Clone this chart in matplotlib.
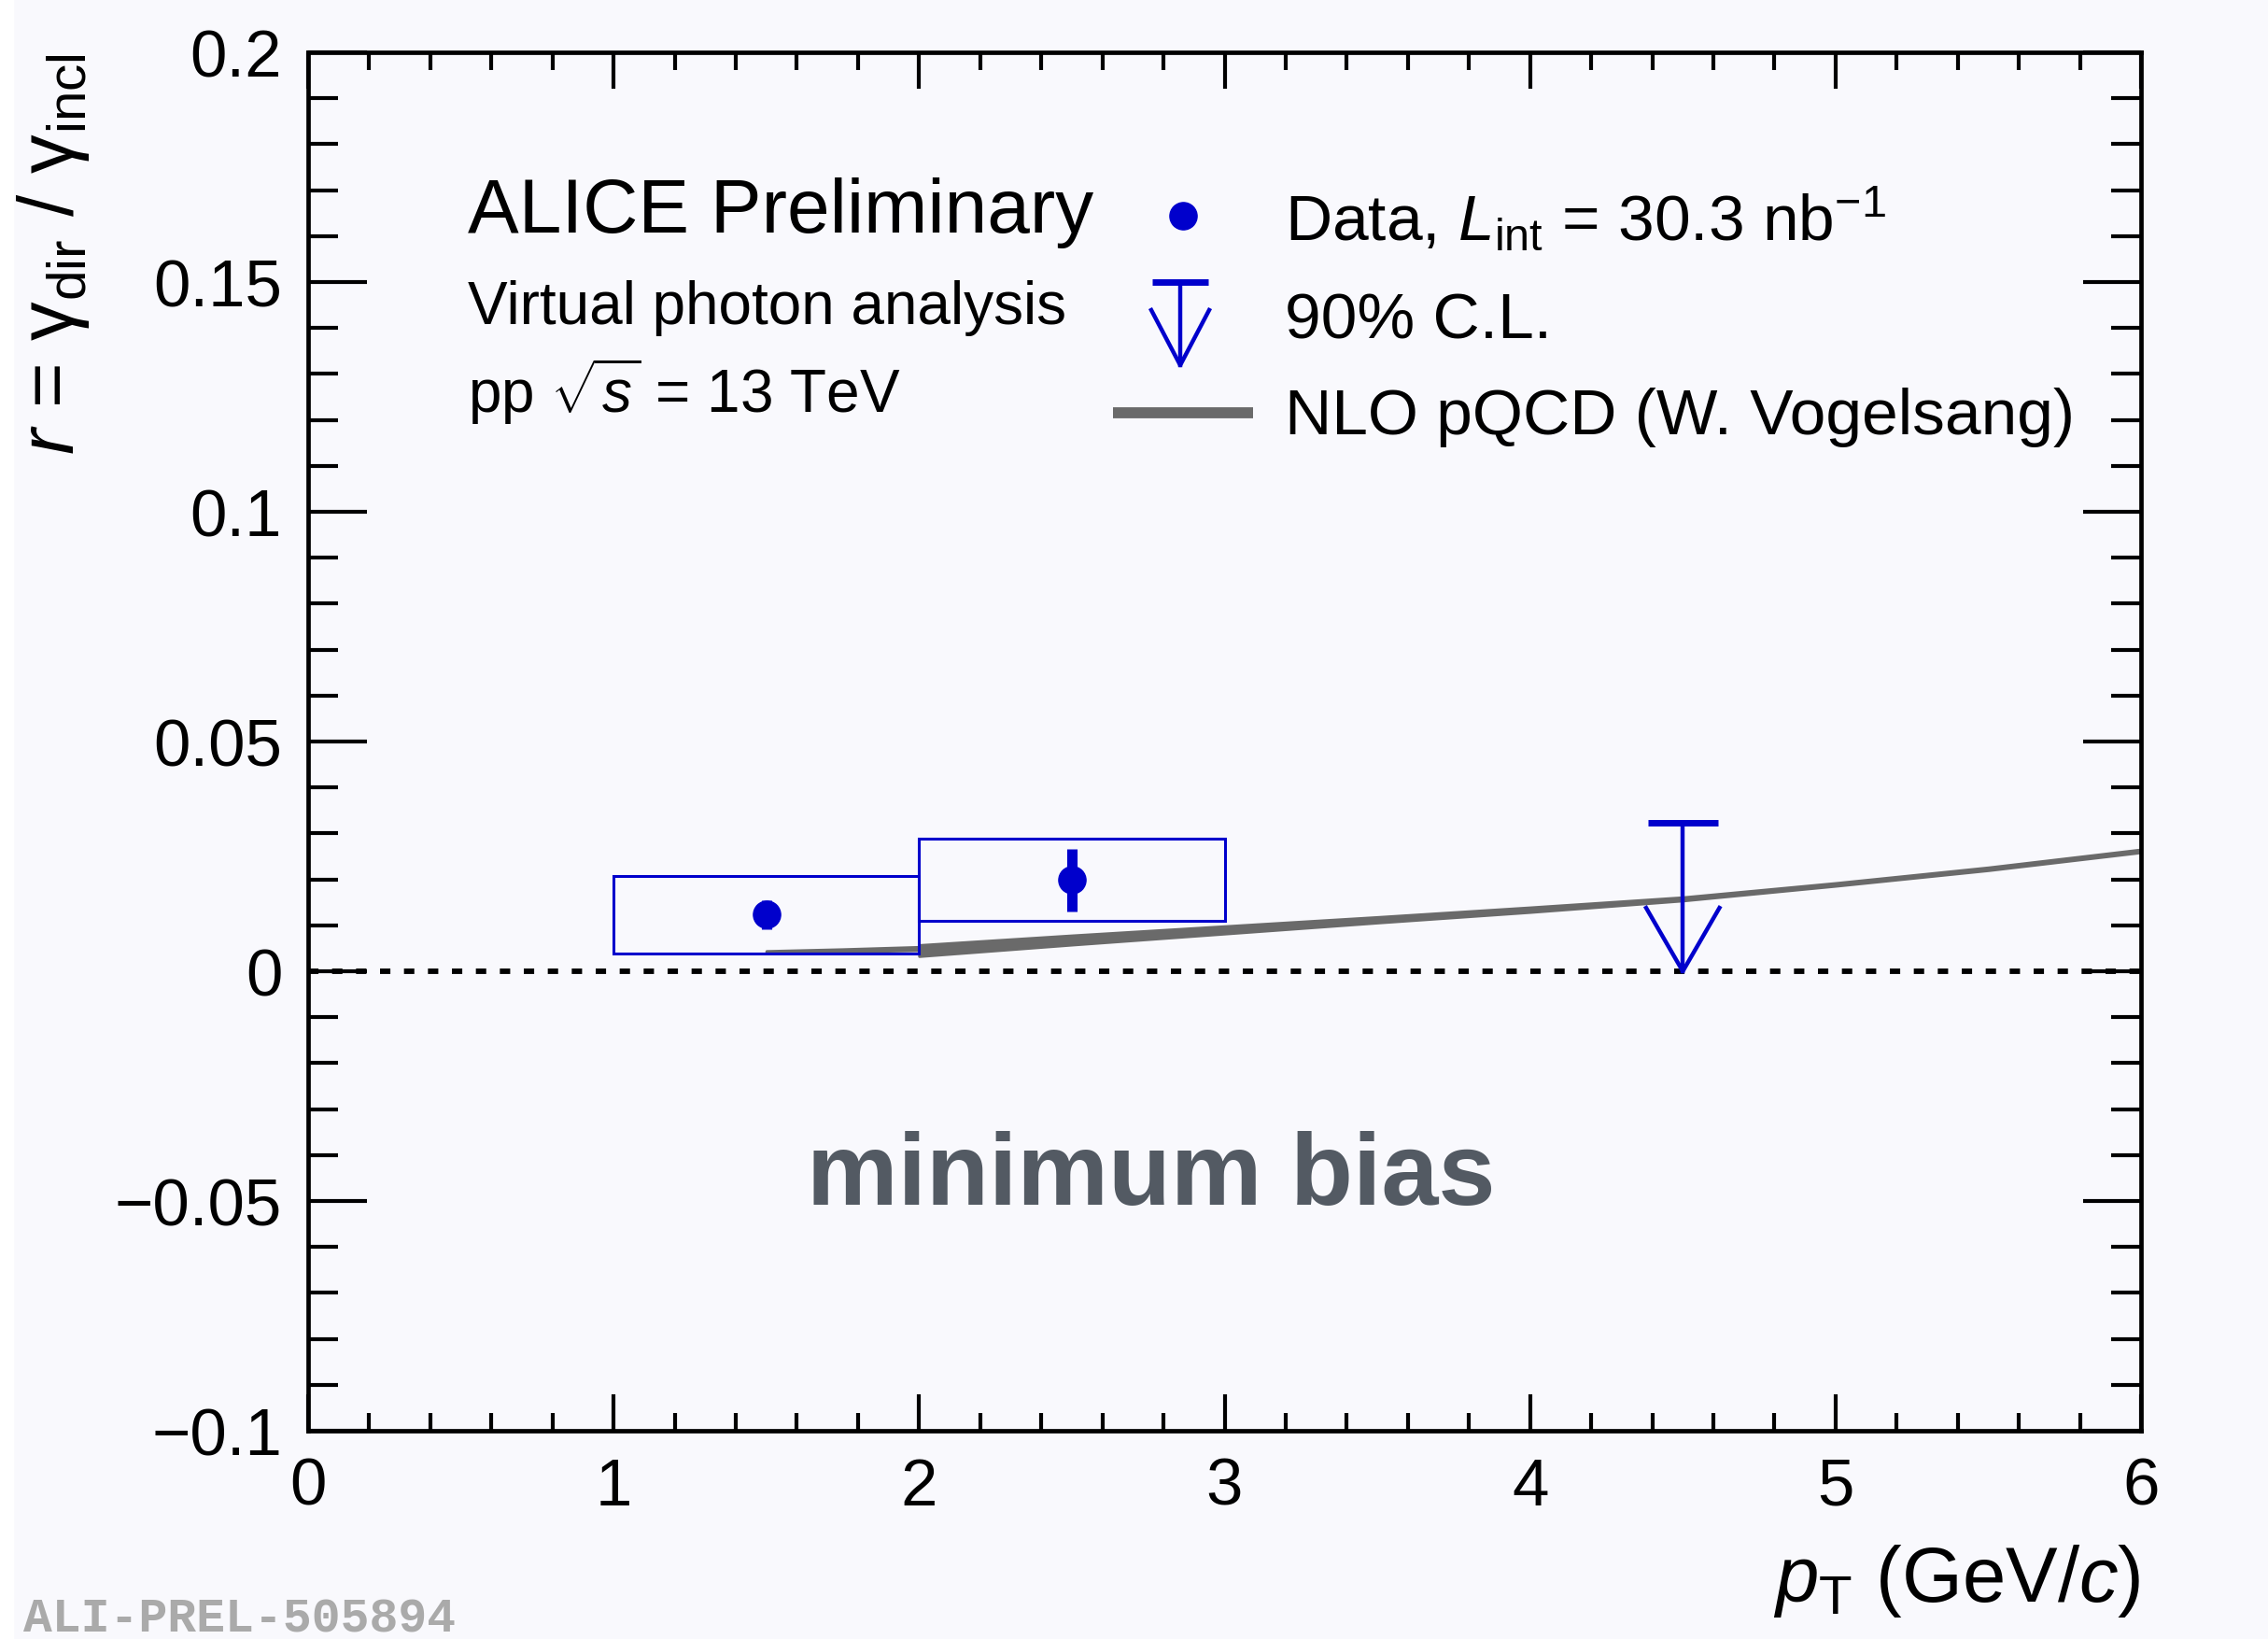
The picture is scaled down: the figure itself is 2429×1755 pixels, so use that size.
import matplotlib
matplotlib.use("Agg")
import matplotlib.pyplot as plt
from matplotlib.patches import Rectangle
from matplotlib.lines import Line2D
from matplotlib.ticker import MultipleLocator, FixedLocator, FixedFormatter

# ---------------- data ----------------
pt_points = [1.5, 2.5]
r_values = [0.0123, 0.0199]
stat_err = [0.0031, 0.0068]
bin_low = [1.0, 2.0]
bin_high = [2.0, 3.0]
sys_low = [0.0038, 0.0110]
sys_high = [0.0207, 0.0288]

ul_pt = 4.5
ul_value = 0.0324
ul_head = 0.0138

nlo1_pt = [1.5, 1.75, 2.0]
nlo1_lo = [0.0040, 0.0043, 0.0046]
nlo1_hi = [0.0044, 0.0048, 0.0053]
nlo2_pt = [2.0, 2.5, 3.0, 3.5, 4.0, 4.5, 5.0, 5.5, 6.0]
nlo2_lo = [0.0033, 0.0058, 0.0082, 0.0106, 0.0129, 0.0154, 0.0186, 0.0220, 0.0259]
nlo2_hi = [0.0057, 0.0078, 0.0098, 0.0118, 0.0139, 0.0161, 0.0192, 0.0226, 0.0265]

y_ticks = [-0.1, -0.05, 0, 0.05, 0.1, 0.15, 0.2]
y_ticklabels = ["\u22120.1", "\u22120.05", "0", "0.05", "0.1", "0.15", "0.2"]
x_ticks = [0, 1, 2, 3, 4, 5, 6]
x_ticklabels = ["0", "1", "2", "3", "4", "5", "6"]

# ---------------- style ----------------
W, H = 2429, 1756
BG = "#f9f9fd"
BLUE = "#0000cc"
GRAY = "#6a6a6a"
plt.rcParams["font.family"] = ["Liberation Sans", "DejaVu Sans"]
plt.rcParams["mathtext.fontset"] = "custom"
plt.rcParams["mathtext.rm"] = "Liberation Sans"
plt.rcParams["mathtext.it"] = "Liberation Sans:italic"
plt.rcParams["mathtext.bf"] = "Liberation Sans:bold"

fig = plt.figure(figsize=(W / 100, H / 100), dpi=100, facecolor=BG)
fig.add_artist(Rectangle((0, 0), 14 / W, 1, transform=fig.transFigure,
                         color="white", zorder=-10))

L, R, T, B = 330, 2293, 57, 1533
ax = fig.add_axes([L / W, 1 - B / H, (R - L) / W, (B - T) / H])
ax.set_facecolor(BG)
ax.set_xlim(0, 6)
ax.set_ylim(-0.1, 0.2)

for s in ax.spines.values():
    s.set_linewidth(3.4)

ax.xaxis.set_major_locator(FixedLocator(x_ticks))
ax.xaxis.set_major_formatter(FixedFormatter(x_ticklabels))
ax.xaxis.set_minor_locator(MultipleLocator(0.2))
ax.yaxis.set_major_locator(FixedLocator(y_ticks))
ax.yaxis.set_major_formatter(FixedFormatter(y_ticklabels))
ax.yaxis.set_minor_locator(MultipleLocator(0.01))

ax.tick_params(axis="x", which="major", direction="in", length=28, width=3,
               top=True, bottom=True, labelsize=51, pad=20)
ax.tick_params(axis="x", which="minor", direction="in", length=14, width=3,
               top=True, bottom=True)
ax.tick_params(axis="y", which="major", direction="in", length=45, width=3,
               left=True, right=True, labelsize=51, pad=20)
ax.tick_params(axis="y", which="minor", direction="in", length=23, width=3,
               left=True, right=True)

# zero line
ax.axhline(0, color="black", lw=4.2, dashes=(1.9, 2.5), zorder=1)

# NLO band
ax.fill_between(nlo1_pt, nlo1_lo, nlo1_hi, color=GRAY, lw=2.2, edgecolor=GRAY, zorder=2)
ax.fill_between(nlo2_pt, nlo2_lo, nlo2_hi, color=GRAY, lw=2.2, edgecolor=GRAY, zorder=2)

# systematic boxes
for x0, x1, y0, y1 in zip(bin_low, bin_high, sys_low, sys_high):
    ax.add_patch(Rectangle((x0, y0), x1 - x0, y1 - y0, fill=False,
                           edgecolor=BLUE, lw=2.2, zorder=3))

# data points
ax.errorbar(pt_points, r_values, yerr=stat_err, fmt="o", color=BLUE,
            markersize=21, elinewidth=8, capsize=0, zorder=4)

# upper limit
ax.plot([ul_pt, ul_pt], [ul_value, 0], color=BLUE, lw=3.2, zorder=4)
ax.plot([ul_pt - 0.115, ul_pt + 0.115], [ul_value, ul_value], color=BLUE,
        lw=5, solid_capstyle="butt", zorder=4)
ax.plot([ul_pt - 0.12, ul_pt, ul_pt + 0.12], [ul_head, 0, ul_head], color=BLUE,
        lw=3.2, zorder=4)

# axis labels
ax.set_xlabel(r"$p_{\mathrm{T}}$ (GeV/$c$)", fontsize=60, loc="right", labelpad=18)
ax.set_ylabel(r"$r$ = $\mathrm{\gamma}_{\mathrm{dir}}$ / $\mathrm{\gamma}_{\mathrm{incl}}$",
              fontsize=60, loc="top", labelpad=18)


def ftext(x, y, s, **kw):
    fig.text(x / W, 1 - y / H, s, va="baseline", **kw)


# header texts
ftext(501, 249, "ALICE Preliminary", fontsize=59)
ftext(501, 347, "Virtual photon analysis", fontsize=46)
ftext(501, 442, r"pp $\sqrt{s}$ = 13 TeV", fontsize=46)

# legend
ftext(1376, 257, r"Data, $L_{\mathrm{int}}$ = 30.3 nb$^{-1}$", fontsize=50)
ftext(1376, 363, "90% C.L.", fontsize=50)
ftext(1376, 465, "NLO pQCD (W. Vogelsang)", fontsize=50)

tf = fig.transFigure
fig.add_artist(Line2D([1267 / W], [1 - 232 / H], marker="o", markersize=21,
                      color=BLUE, transform=tf))
cx = 1264
fig.add_artist(Line2D([cx / W, cx / W], [1 - 303 / H, 1 - 392 / H], color=BLUE,
                      lw=3.2, transform=tf))
fig.add_artist(Line2D([(cx - 30) / W, (cx + 30) / W], [1 - 303 / H, 1 - 303 / H],
                      color=BLUE, lw=5, solid_capstyle="butt", transform=tf))
fig.add_artist(Line2D([(cx - 31) / W, cx / W, (cx + 31) / W],
                      [1 - 333 / H, 1 - 392 / H, 1 - 333 / H],
                      color=BLUE, lw=3.2, transform=tf))
fig.add_artist(Line2D([1192 / W, 1342 / W], [1 - 443 / H, 1 - 443 / H],
                      color=GRAY, lw=8.5, solid_capstyle="butt", transform=tf))

# minimum bias
ax.text(2.76, -0.0449, "minimum bias", fontsize=79, fontweight="bold",
        color="#535a63", ha="center", va="center")

# watermark
ftext(25, 1748, "ALI-PREL-505894", fontsize=37, fontweight="bold",
      color="#aaaaaa", family=["Liberation Mono", "DejaVu Sans Mono"])

fig.savefig("out.png", dpi=100, facecolor=BG)
